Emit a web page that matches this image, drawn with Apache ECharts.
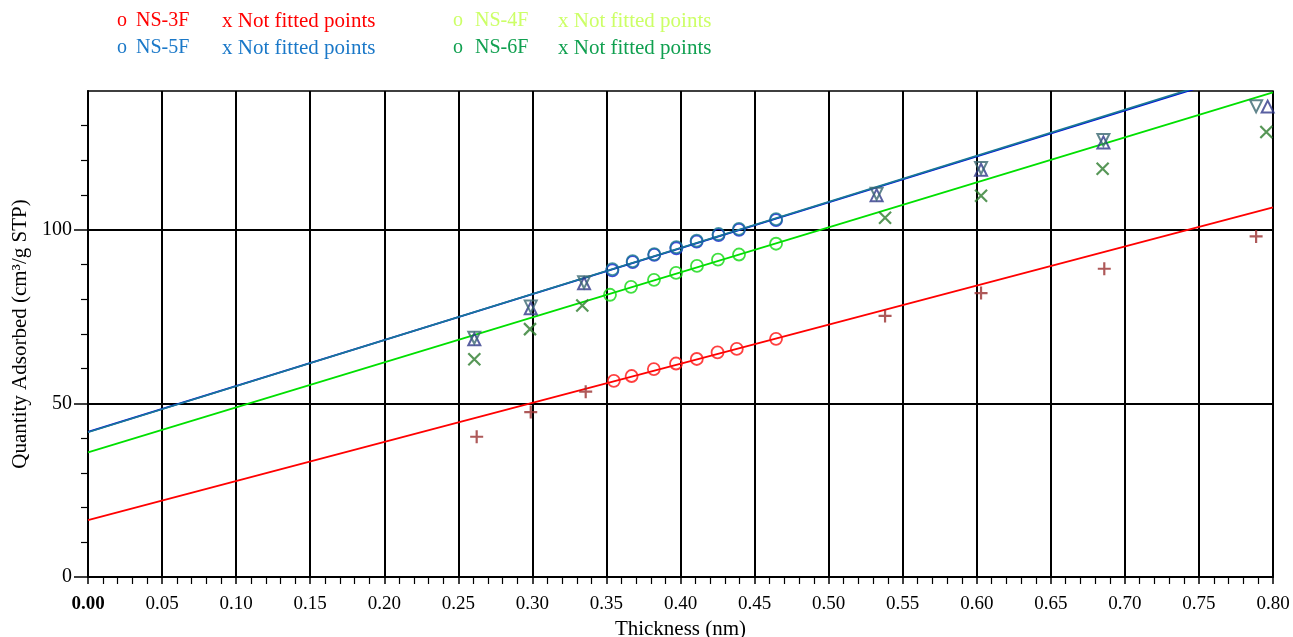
<!DOCTYPE html>
<html>
<head>
<meta charset="utf-8">
<script src="https://cdn.jsdelivr.net/npm/echarts@6/dist/echarts.min.js"></script>
<style>html,body{margin:0;padding:0;background:#fff;}#c{width:1293px;height:637px;}</style>
</head>
<body>
<div id="c"></div>
<script>
// ---- data ----
const xTicks = ['0.00','0.05','0.10','0.15','0.20','0.25','0.30','0.35','0.40','0.45','0.50','0.55','0.60','0.65','0.70','0.75','0.80'];
const yTicks = [0, 50, 100];

// fitted points (circles)
const fitX3F = [0.355, 0.367, 0.382, 0.397, 0.411, 0.425, 0.438, 0.4645];
const fitY3F = [56.5, 57.9, 59.9, 61.5, 62.8, 64.7, 65.7, 68.6];
const fitX4F = [0.3524, 0.3666, 0.3821, 0.397, 0.4111, 0.4253, 0.4395, 0.4645];
const fitY4F = [81.3, 83.6, 85.6, 87.6, 89.6, 91.4, 92.9, 96.0];
const fitX5F = [0.354, 0.3677, 0.3823, 0.3972, 0.4109, 0.4257, 0.4395, 0.4645];
const fitY5F = [88.3, 90.7, 92.8, 94.7, 96.6, 98.5, 100.0, 102.8];
const fitX6F = [0.354, 0.3677, 0.3823, 0.3972, 0.4109, 0.4257, 0.4395, 0.4645];
const fitY6F = [88.7, 91.0, 93.0, 95.0, 96.9, 98.8, 100.3, 103.1];

// not fitted points
const nfX3F = [0.2624, 0.2989, 0.3360, 0.5381, 0.6029, 0.6861, 0.7886];
const nfY3F = [40.4, 47.5, 53.4, 75.2, 81.8, 88.8, 98.1];
const nfX4F = [0.2608, 0.2984, 0.3337, 0.5381, 0.6029, 0.6850, 0.7955];
const nfY4F = [62.7, 71.4, 78.2, 103.5, 109.8, 117.6, 128.2];
const nfX5F = [0.2608, 0.2989, 0.3349, 0.5324, 0.6029, 0.6855, 0.7964];
const nfY5F = [68.5, 77.4, 84.6, 110.0, 117.3, 125.2, 135.5];
const nfX6F = [0.2608, 0.2989, 0.3349, 0.5324, 0.6029, 0.6855, 0.7886];
const nfY6F = [68.9, 77.9, 84.9, 110.4, 117.8, 125.9, 135.6];

// fitted straight lines: [thickness, quantity] at both ends
const lineX = [0, 0.8];
const lineY3F = [16.4, 106.5];
const lineY4F = [35.9, 139.6];
const lineY5F = [41.8, 147.6];
const lineY6F = [41.7, 147.9];

// legend
const legendRows = [
  {name: 'NS-3F', note: 'x Not fitted points', color: '#ff0000'},
  {name: 'NS-4F', note: 'x Not fitted points', color: '#ccff66'},
  {name: 'NS-5F', note: 'x Not fitted points', color: '#1a78c8'},
  {name: 'NS-6F', note: 'x Not fitted points', color: '#10a050'}
];

const zip = (xs, ys) => xs.map((x, i) => [x, ys[i]]);
const FONT = '"Liberation Serif", "DejaVu Serif", serif';

function lineSeries(ys, color, z) {
  return {type: 'line', data: zip(lineX, ys), showSymbol: false, symbol: 'none', clip: true,
    lineStyle: {color: color, width: 1.8}, z: z, silent: true, animation: false};
}
function markSeries(xs, ys, symbol, color, size, rotate, z, bw) {
  return {type: 'scatter', data: zip(xs, ys), symbol: symbol, symbolSize: size, symbolRotate: rotate || 0,
    itemStyle: {color: 'rgba(0,0,0,0)', borderColor: color, borderWidth: bw || 1.8}, z: z, animation: false};
}
const plusPath = 'path://M0,-1L0,1M-1,0L1,0';
const crossPath = 'path://M-1,-1L1,1M-1,1L1,-1';

// legend graphic texts
const legendPos = [{x: 117, y: 21}, {x: 453, y: 21}, {x: 117, y: 48}, {x: 453, y: 48}];
const graphics = [];
legendRows.forEach((r, i) => {
  const p = legendPos[i];
  const txt = (t, dx, size) => ({type: 'text', x: p.x + dx, y: p.y,
    style: {text: t, fill: r.color, font: size + 'px ' + FONT, verticalAlign: 'middle', align: 'left'}});
  graphics.push(txt('o', 0, 20));
  graphics.push(txt(r.name, i % 2 === 0 ? 19 : 22, 20));
  graphics.push(txt(r.note, 105, 21));
});

const chart = echarts.init(document.getElementById('c'), null, {renderer: 'canvas'});
chart.setOption({
  animation: false,
  backgroundColor: '#fff',
  grid: {left: 88, right: 20, top: 91, bottom: 60, show: true, borderColor: '#000', borderWidth: 1.5,
    containLabel: false, outerBoundsMode: 'none'},
  graphic: graphics,
  xAxis: {
    type: 'value', min: 0, max: 0.8, interval: 0.05,
    name: 'Thickness (nm)', nameLocation: 'middle', nameGap: 39,
    nameTextStyle: {color: '#000', fontFamily: FONT, fontSize: 21},
    axisLine: {show: true, lineStyle: {color: '#000', width: 2}},
    axisTick: {show: true, length: 7, lineStyle: {color: '#000', width: 1.5}},
    minorTick: {show: true, splitNumber: 5, length: 7, lineStyle: {color: '#000', width: 1.2}},
    splitLine: {show: true, lineStyle: {color: '#000', width: 2}},
    axisLabel: {color: '#000', fontFamily: FONT, fontSize: 19, margin: 18,
      rich: {b: {fontFamily: FONT, fontSize: 19, fontWeight: 'bold', color: '#000'}},
      formatter: v => {
        const t = xTicks[Math.round(v / 0.05)] || '';
        return v === 0 ? '{b|' + t + '}' : t;
      }}
  },
  yAxis: {
    type: 'value', min: 0, max: 140, interval: 50,
    name: 'Quantity Adsorbed (cm³/g STP)', nameLocation: 'middle', nameGap: 56, nameRotate: 90,
    nameTextStyle: {color: '#000', fontFamily: FONT, fontSize: 21},
    axisLine: {show: true, lineStyle: {color: '#000', width: 2}},
    axisTick: {show: true, length: 14, customValues: yTicks, lineStyle: {color: '#000', width: 1.5}},
    minorTick: {show: true, splitNumber: 5, length: 7, lineStyle: {color: '#000', width: 1.2}},
    splitLine: {show: true, lineStyle: {color: '#000', width: 2}},
    axisLabel: {color: '#000', fontFamily: FONT, fontSize: 20, margin: 16, customValues: yTicks,
      formatter: v => String(v)}
  },
  series: [
    lineSeries(lineY3F, '#ff0000', 2),
    lineSeries(lineY4F, '#00e000', 2),
    lineSeries(lineY5F, '#0010d8', 2),
    lineSeries(lineY6F, '#1a7a96', 3),
    markSeries(fitX3F, fitY3F, 'circle', '#ff1010', 12, 0, 4),
    markSeries(fitX4F, fitY4F, 'circle', '#10d810', 12, 0, 4),
    markSeries(fitX5F, fitY5F, 'circle', '#1020d0', 12, 0, 4),
    markSeries(fitX6F, fitY6F, 'circle', '#187890', 12, 0, 5),
    markSeries(nfX3F, nfY3F, plusPath, '#9a3030', 13, 0, 4, 2.2),
    markSeries(nfX4F, nfY4F, crossPath, '#2d7d2d', 12, 0, 4, 2.2),
    markSeries(nfX5F, nfY5F, 'triangle', '#30388a', 12, 0, 4, 2),
    markSeries(nfX6F, nfY6F, 'triangle', '#3a6870', 12, 180, 4, 2)
  ]
});
</script>
</body>
</html>
